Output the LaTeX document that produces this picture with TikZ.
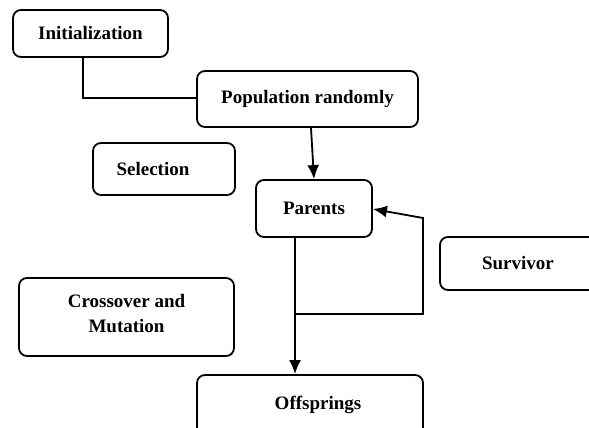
\documentclass[tikz,border=0pt]{standalone}
\usepackage{fontspec}
\setmainfont{Liberation Serif}
\usetikzlibrary{arrows.meta}

\begin{document}
\begin{tikzpicture}[x=1pt, y=-1pt, >={Latex[length=14pt,width=12pt]}, line width=1.8pt,
    stage/.style={rectangle, draw, rounded corners=8pt, align=center, inner sep=0pt,
        font=\fontsize{19}{25}\selectfont\bfseries}]
        \clip (0,0) rectangle (589,428);
        \useasboundingbox (0,0) rectangle (589,428);

        \node (init) [stage, minimum width=155pt, minimum height=47pt] at (90.5,33.5) {Initialization};
        \node (pop) [stage, minimum width=221pt, minimum height=56pt] at (307.5,99) {Population randomly};
        \node (sel) [stage, minimum width=142pt, minimum height=52pt] at (164,169) {Selection\hspace{22pt}};
        \node (par) [stage, minimum width=116pt, minimum height=57pt] at (314,208.5) {Parents};
        \node (surv) [stage, minimum width=160pt, minimum height=53pt] at (520,263.5) {Survivor\hspace{4pt}};
        \node (cross) [stage, minimum width=215pt, minimum height=78pt] at (126.5,317) {Crossover and\\Mutation\\[-17pt]};
        \node (off) [stage, minimum width=226pt, minimum height=60pt] at (310,405) {\hspace{16pt}Offsprings\\[-20pt]};

        \coordinate (fork) at (295,314);
        \coordinate (back) at (423,218);

        \draw (init.south -| 83,0) |- (pop.west |- 0,98);
        \draw [->] (pop.south -| 311,0) -- (par.north -| 314,0);
        \draw [->] (par.south -| 295,0) -- (off.north -| 295,0);

        % survivors go back to the parents
        \draw [->] (fork) -| (back) -- (par.east |- 0,209);
\end{tikzpicture}
\end{document}
